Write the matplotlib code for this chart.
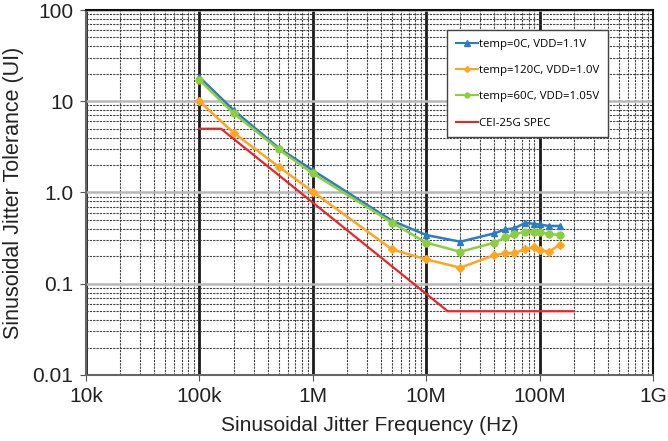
import matplotlib
matplotlib.use("Agg")
import matplotlib.pyplot as plt
from matplotlib.ticker import FixedLocator, FixedFormatter, LogLocator, NullFormatter
from matplotlib.lines import Line2D

# Sinusoidal jitter frequency points (Hz)
freq_early = [1e5, 2e5, 5e5, 1e6, 5e6, 10e6, 20e6, 40e6, 50e6, 60e6, 75e6, 90e6, 100e6, 120e6, 150e6]

# Measured jitter tolerance (UI)
jtol_0c = [18.4, 8.0, 3.08, 1.75, 0.49, 0.342, 0.289, 0.357, 0.395, 0.405, 0.467, 0.452, 0.447, 0.43, 0.43]
jtol_120c = [10.0, 4.52, 1.92, 1.02, 0.238, 0.185, 0.150, 0.206, 0.215, 0.219, 0.238, 0.255, 0.234, 0.224, 0.266]
jtol_60c = [17.1, 7.38, 2.97, 1.62, 0.467, 0.282, 0.224, 0.282, 0.323, 0.348, 0.373, 0.373, 0.366, 0.351, 0.342]

# CEI-25G jitter tolerance mask
spec_freq = [1e5, 1.55e5, 15.5e6, 2e8]
spec_ui = [5.0, 5.0, 0.05, 0.05]

labels = ["temp=0C, VDD=1.1V", "temp=120C, VDD=1.0V", "temp=60C, VDD=1.05V", "CEI-25G SPEC"]
colors = ["#2a7cc4", "#ffa620", "#8ccf3c", "#e8262a"]

x_ticks = [1e4, 1e5, 1e6, 1e7, 1e8, 1e9]
x_ticklabels = ["10k", "100k", "1M", "10M", "100M", "1G"]
y_ticks = [0.01, 0.1, 1.0, 10, 100]
y_ticklabels = ["0.01", "0.1", "1.0", "10", "100"]

plt.rcParams["font.family"] = ["Liberation Sans", "DejaVu Sans"]

fig = plt.figure(figsize=(6.68, 4.41), dpi=100)
ax = fig.add_axes([86 / 668, 1 - 375 / 441, 567 / 668, 365 / 441])
ax.set_xscale("log")
ax.set_yscale("log")
ax.set_xlim(1e4, 1e9)
ax.set_ylim(0.01, 100)

# grid: dark dashed minor lines, heavy black vertical decades, light grey horizontal decades
ax.xaxis.set_minor_locator(LogLocator(base=10, subs=range(2, 10)))
ax.yaxis.set_minor_locator(LogLocator(base=10, subs=range(2, 10)))
ax.xaxis.set_minor_formatter(NullFormatter())
ax.yaxis.set_minor_formatter(NullFormatter())
ax.grid(which="minor", axis="both", color="#404040", linestyle=(0, (2, 1)), linewidth=0.8)
ax.grid(which="major", axis="x", color="#1a1a1a", linestyle="-", linewidth=2.0)
ax.grid(which="major", axis="y", color="#b8b8b8", linestyle="-", linewidth=1.8)
ax.set_axisbelow(True)

ax.plot(freq_early, jtol_0c, color=colors[0], marker="^", markersize=5, linewidth=1.8, label=labels[0])
ax.plot(freq_early, jtol_120c, color=colors[1], marker="D", markersize=4, linewidth=1.8, label=labels[1])
ax.plot(freq_early, jtol_60c, color=colors[2], marker="o", markersize=5, linewidth=1.8, label=labels[2])
ax.plot(spec_freq, spec_ui, color=colors[3], linewidth=1.6, label=labels[3])

ax.xaxis.set_major_locator(FixedLocator(x_ticks))
ax.xaxis.set_major_formatter(FixedFormatter(x_ticklabels))
ax.yaxis.set_major_locator(FixedLocator(y_ticks))
ax.yaxis.set_major_formatter(FixedFormatter(y_ticklabels))
ax.tick_params(axis="both", which="major", labelsize=15, length=4, color="#555555", pad=5, labelcolor="#222222")
ax.tick_params(axis="both", which="minor", length=0)

for side in ["left", "bottom"]:
    ax.spines[side].set_color("#666666")
    ax.spines[side].set_linewidth(1.5)
for side in ["top", "right"]:
    ax.spines[side].set_color("#111111")
    ax.spines[side].set_linewidth(1.5)

ax.set_xlabel("Sinusoidal Jitter Frequency (Hz)", fontsize=15, color="#222222", labelpad=7)
ax.set_ylabel("Sinusoidal Jitter Tolerance (UI)", fontsize=15.5, color="#222222", labelpad=6)

handles = [
    Line2D([], [], color=colors[0], marker="^", markersize=4, linewidth=1.5),
    Line2D([], [], color=colors[1], marker="D", markersize=3, linewidth=1.5),
    Line2D([], [], color=colors[2], marker="o", markersize=3.5, linewidth=1.5),
    Line2D([], [], color=colors[3], linewidth=1.5),
]
leg = ax.legend(handles, labels, loc="upper left", bbox_to_anchor=((447 - 86) / 567, (375 - 30) / 365),
                prop={"family": ["Open Sans", "DejaVu Sans"], "size": 8.2},
                frameon=True, fancybox=False, edgecolor="#444444", framealpha=1.0,
                labelspacing=1.35, handlelength=2.0, handletextpad=0.1, borderpad=0.75,
                borderaxespad=0)
leg.get_frame().set_linewidth(1.0)

fig.savefig("out.png", dpi=100)
